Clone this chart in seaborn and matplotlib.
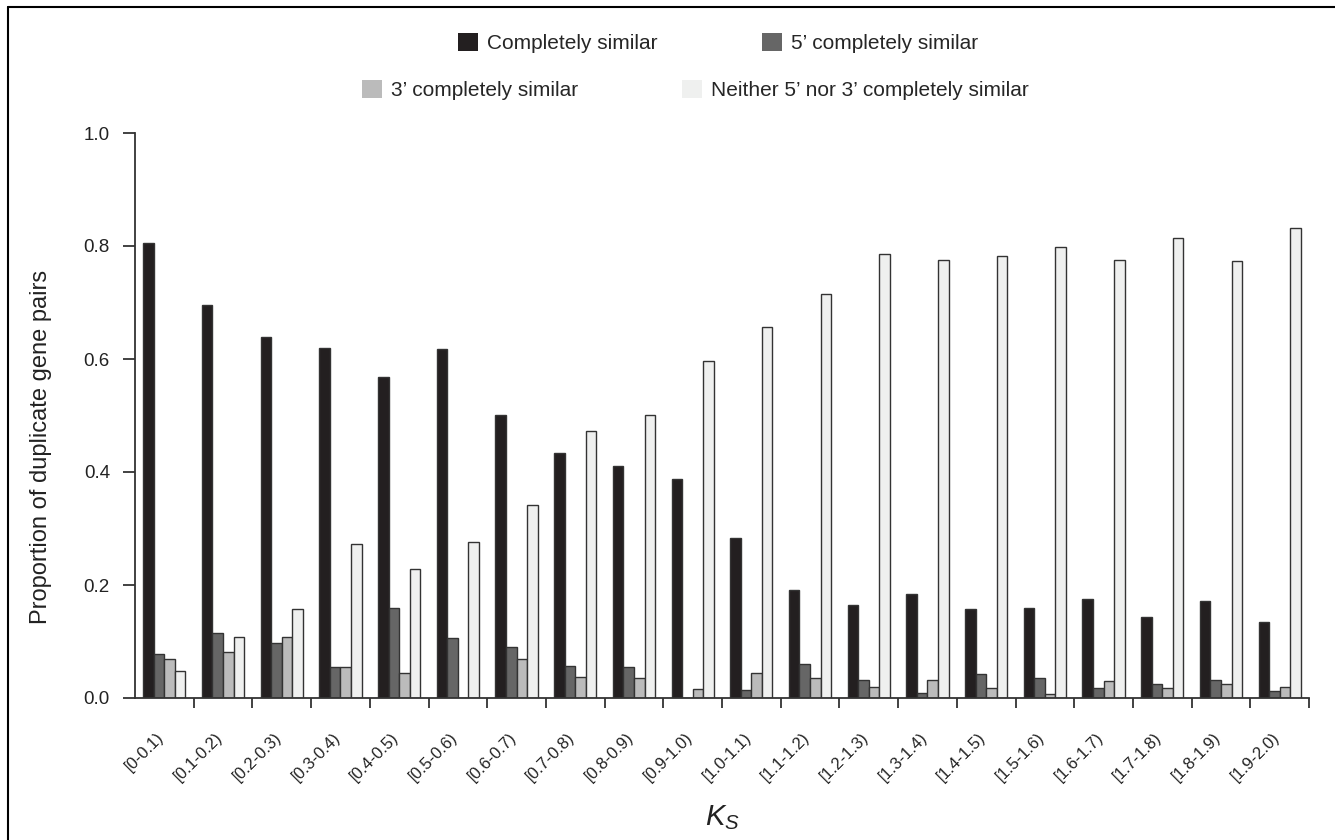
import matplotlib
matplotlib.use("Agg")
import matplotlib.pyplot as plt
import matplotlib.patches as mpatches
from matplotlib.lines import Line2D
from matplotlib.transforms import ScaledTranslation
import pandas as pd
import seaborn as sns


KS_BINS = [
    "[0-0.1)", "[0.1-0.2)", "[0.2-0.3)", "[0.3-0.4)", "[0.4-0.5)",
    "[0.5-0.6)", "[0.6-0.7)", "[0.7-0.8)", "[0.8-0.9)", "[0.9-1.0)",
    "[1.0-1.1)", "[1.1-1.2)", "[1.2-1.3)", "[1.3-1.4)", "[1.4-1.5)",
    "[1.5-1.6)", "[1.6-1.7)", "[1.7-1.8)", "[1.8-1.9)", "[1.9-2.0)",
]
COMPLETE = [0.806, 0.696, 0.639, 0.619, 0.569, 0.618, 0.501, 0.434, 0.411, 0.388,
            0.284, 0.191, 0.165, 0.184, 0.157, 0.160, 0.176, 0.143, 0.171, 0.135]
FIVE_PRIME = [0.078, 0.115, 0.097, 0.054, 0.159, 0.107, 0.090, 0.056, 0.054, 0.0,
              0.014, 0.060, 0.031, 0.009, 0.043, 0.036, 0.018, 0.024, 0.031, 0.013]
THREE_PRIME = [0.069, 0.081, 0.108, 0.054, 0.045, 0.0, 0.069, 0.038, 0.035, 0.016,
               0.045, 0.035, 0.020, 0.031, 0.017, 0.007, 0.030, 0.018, 0.024, 0.020]
NEITHER = [0.047, 0.108, 0.157, 0.273, 0.228, 0.276, 0.341, 0.472, 0.501, 0.597,
           0.657, 0.715, 0.785, 0.776, 0.783, 0.798, 0.776, 0.815, 0.774, 0.832]

SERIES = [
    "Completely similar",
    "5\u2019 completely similar",
    "3\u2019 completely similar",
    "Neither 5\u2019 nor 3\u2019 completely similar",
]
COLORS = ["#231f20", "#666666", "#bbbbbb", "#eff0ef"]
Y_TICKS = [0.0, 0.2, 0.4, 0.6, 0.8, 1.0]


def main():
    frames = []
    for name, values in zip(SERIES, [COMPLETE, FIVE_PRIME, THREE_PRIME, NEITHER]):
        frames.append(pd.DataFrame({"ks": KS_BINS, "value": values, "series": name}))
    data = pd.concat(frames, ignore_index=True)

    sns.set_style("ticks")
    plt.rcParams["font.family"] = ["Liberation Sans", "DejaVu Sans"]
    plt.rcParams["mathtext.fontset"] = "custom"
    plt.rcParams["mathtext.it"] = "Liberation Sans:italic"
    plt.rcParams["mathtext.rm"] = "Liberation Sans"

    W, H = 1335, 840
    fig = plt.figure(figsize=(W / 100, H / 100), dpi=100)
    ax = fig.add_axes([135 / W, 1 - 698 / H, (1309 - 135) / W, (698 - 133) / H])

    sns.barplot(
        data=data, x="ks", y="value", hue="series",
        order=KS_BINS, hue_order=SERIES, palette=COLORS,
        width=0.72, saturation=1, edgecolor="#333333", linewidth=1.0,
        legend=False, ax=ax,
    )

    ax.set_xlim(-0.5, len(KS_BINS) - 0.5)
    ax.set_ylim(0, 1.0)
    ax.set_yticks(Y_TICKS)
    ax.set_yticklabels([f"{t:.1f}" for t in Y_TICKS], fontsize=13.5, color="#222222")
    ax.tick_params(axis="y", length=8.5, width=1.3, color="#333333", pad=9.5)

    ax.set_xticks(range(len(KS_BINS)))
    ax.set_xticklabels(KS_BINS, rotation=45, ha="right", rotation_mode="anchor",
                       fontsize=12, color="#222222")
    ax.tick_params(axis="x", which="major", length=0, pad=23)
    shift = ScaledTranslation(-8 / 100, 0, fig.dpi_scale_trans)
    for label in ax.get_xticklabels():
        label.set_transform(label.get_transform() + shift)
    ax.set_xticks([i + 0.5 for i in range(len(KS_BINS))], minor=True)
    ax.tick_params(axis="x", which="minor", length=7, width=1.3, color="#333333")

    for side in ["top", "right"]:
        ax.spines[side].set_visible(False)
    for side in ["left", "bottom"]:
        ax.spines[side].set_linewidth(1.3)
        ax.spines[side].set_color("#333333")

    ax.set_ylabel("Proportion of duplicate gene pairs", fontsize=17, color="#222222")
    ax.yaxis.set_label_coords(-0.071, 0.444)
    ax.set_xlabel("$K_S$", fontsize=21, color="#222222")
    ax.xaxis.set_label_coords(0.5, -0.187)

    handles = [mpatches.Patch(facecolor=c, edgecolor="none") for c in COLORS]
    legend_kw = dict(ncol=2, frameon=False, fontsize=15, handlelength=0.96,
                     handleheight=0.92, handletextpad=0.43, columnspacing=5.0,
                     borderpad=0, borderaxespad=0, loc="center left")
    fig.legend(handles[:2], SERIES[:2], bbox_to_anchor=(458 / W, 1 - 43 / H), **legend_kw)
    fig.legend(handles[2:], SERIES[2:], bbox_to_anchor=(362 / W, 1 - 90 / H), **legend_kw)

    # frame lines on the left and top edge of the figure
    fig.add_artist(Line2D([8 / W, 8 / W], [0, 1 - 7 / H], transform=fig.transFigure,
                          color="black", linewidth=1.5))
    fig.add_artist(Line2D([8 / W, 1], [1 - 7 / H, 1 - 7 / H], transform=fig.transFigure,
                          color="black", linewidth=1.5))

    fig.savefig("out.png", dpi=100, facecolor="white")
    plt.close(fig)


if __name__ == "__main__":
    main()
